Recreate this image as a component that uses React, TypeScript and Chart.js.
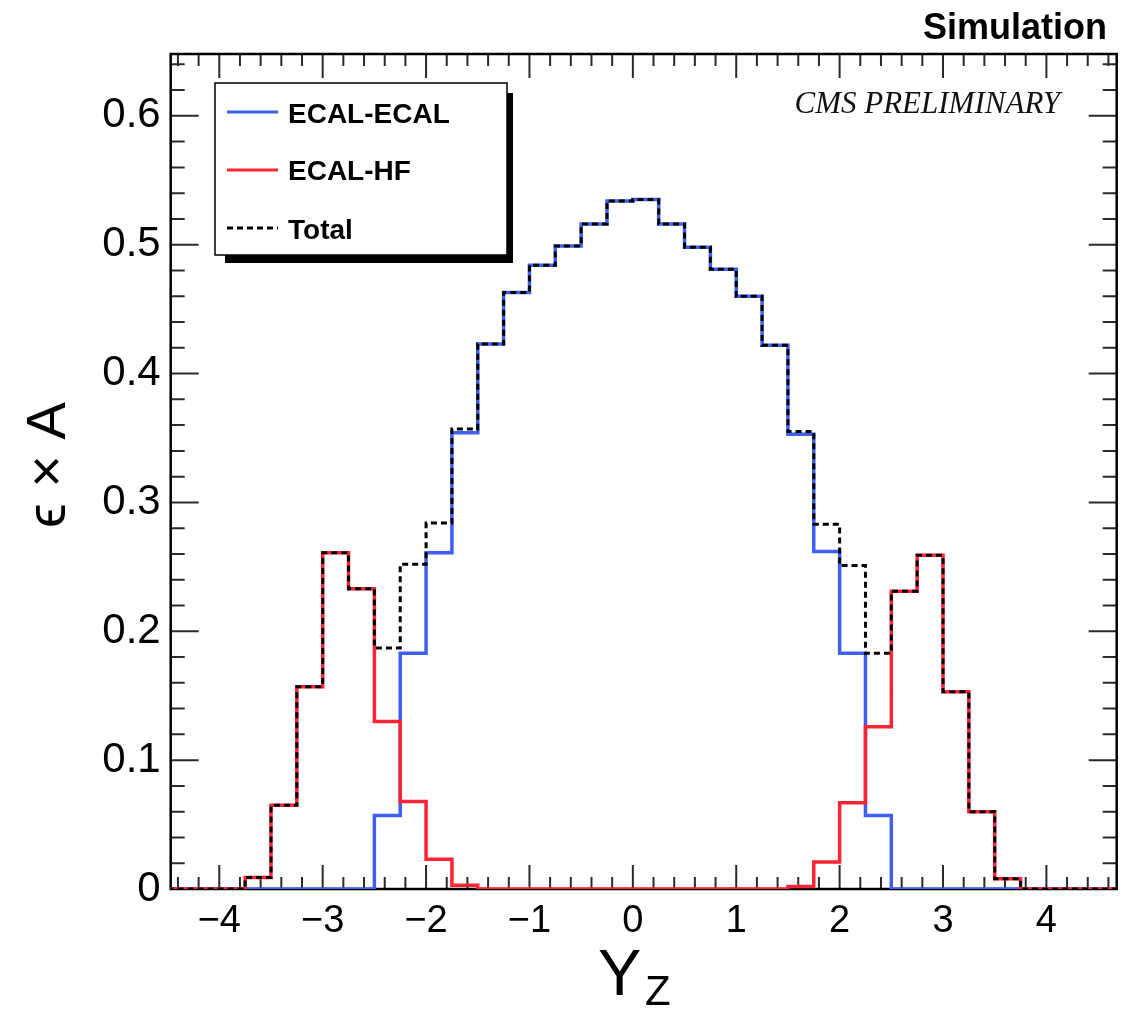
import React, { useEffect, useRef } from "react";
import { Chart, registerables } from "chart.js";

Chart.register(...registerables);

// Bin edges (low edges of 38 bins of width 0.25, plus the final upper edge)
const binEdges = [
  -4.75, -4.5, -4.25, -4.0, -3.75, -3.5, -3.25, -3.0, -2.75, -2.5, -2.25, -2.0, -1.75,
  -1.5, -1.25, -1.0, -0.75, -0.5, -0.25, 0.0, 0.25, 0.5, 0.75, 1.0, 1.25, 1.5, 1.75,
  2.0, 2.25, 2.5, 2.75, 3.0, 3.25, 3.5, 3.75, 4.0, 4.25, 4.5, 4.75,
];

// ECAL-ECAL
const ecalEcal = [
  0, 0, 0, 0, 0, 0, 0, 0, 0, 0.057, 0.183, 0.261, 0.354,
  0.423, 0.463, 0.484, 0.499, 0.516, 0.534, 0.535, 0.516, 0.498, 0.481, 0.46, 0.422, 0.353,
  0.262, 0.183, 0.057, 0, 0, 0, 0, 0, 0, 0, 0, 0,
];

// ECAL-HF
const ecalHf = [
  0, 0, 0, 0, 0.009, 0.065, 0.157, 0.261, 0.233, 0.13, 0.068, 0.023, 0.003,
  0, 0, 0, 0, 0, 0, 0, 0, 0, 0, 0, 0, 0.002,
  0.021, 0.067, 0.126, 0.231, 0.259, 0.153, 0.06, 0.008, 0, 0, 0, 0,
];

// Total
const totalVals = [
  0, 0, 0, 0, 0.009, 0.065, 0.157, 0.261, 0.233, 0.187, 0.252, 0.284, 0.357,
  0.423, 0.463, 0.484, 0.499, 0.516, 0.534, 0.535, 0.516, 0.498, 0.481, 0.46, 0.422, 0.355,
  0.283, 0.251, 0.183, 0.231, 0.259, 0.153, 0.06, 0.008, 0, 0, 0, 0,
];

const xTickValues = [-4, -3, -2, -1, 0, 1, 2, 3, 4];
const xTickLabels = ["\u22124", "\u22123", "\u22122", "\u22121", "0", "1", "2", "3", "4"];
const yTickValues = [0, 0.1, 0.2, 0.3, 0.4, 0.5, 0.6];
const yTickLabels = ["0", "0.1", "0.2", "0.3", "0.4", "0.5", "0.6"];

const seriesLabels = ["ECAL-ECAL", "ECAL-HF", "Total"];
const seriesColors = ["#3f5ff2", "#ff2434", "#000000"];

const SANS = "'Liberation Sans', Arial, Helvetica, sans-serif";
const SERIF = "'Liberation Serif', 'Times New Roman', serif";

const toPoints = (vals: number[]) =>
  binEdges.map((x, i) => ({ x, y: vals[Math.min(i, vals.length - 1)] }));

const framePlugin = {
  id: "rootFrame",
  beforeDatasetsDraw(chart: any) {
    const { ctx, chartArea, scales } = chart;
    const { left, right, top, bottom } = chartArea;
    const xs = scales.x;
    const ys = scales.y;
    ctx.save();
    ctx.strokeStyle = "#2a2a2a";
    ctx.lineWidth = 2;
    for (let k = Math.ceil(xs.min * 5); k <= Math.floor(xs.max * 5); k++) {
      const v = k / 5;
      const len = k % 5 === 0 ? 24 : 12;
      const px = xs.getPixelForValue(v);
      ctx.beginPath();
      ctx.moveTo(px, bottom);
      ctx.lineTo(px, bottom - len);
      ctx.moveTo(px, top);
      ctx.lineTo(px, top + len);
      ctx.stroke();
    }
    for (let k = Math.ceil(ys.min * 50); k <= Math.floor(ys.max * 50); k++) {
      const v = k / 50;
      const len = k % 5 === 0 ? 28 : 14;
      const py = ys.getPixelForValue(v);
      ctx.beginPath();
      ctx.moveTo(left, py);
      ctx.lineTo(left + len, py);
      ctx.moveTo(right, py);
      ctx.lineTo(right - len, py);
      ctx.stroke();
    }
    ctx.strokeStyle = "#000";
    ctx.lineWidth = 2.5;
    ctx.strokeRect(left, top, right - left, bottom - top);
    ctx.restore();
  },
  afterDraw(chart: any) {
    const { ctx } = chart;
    ctx.save();
    // Legend box with shadow
    ctx.fillStyle = "#000";
    ctx.fillRect(225, 93, 288, 170);
    ctx.fillStyle = "#fff";
    ctx.fillRect(215, 83, 292, 172);
    ctx.strokeStyle = "#000";
    ctx.lineWidth = 1.5;
    ctx.strokeRect(215, 83, 292, 172);

    const rows = [112, 170, 228];
    const baselines = [123, 180, 239];
    rows.forEach((ry, i) => {
      ctx.beginPath();
      ctx.strokeStyle = seriesColors[i];
      ctx.lineWidth = 3;
      ctx.setLineDash(i === 2 ? [6, 4] : []);
      ctx.moveTo(227, ry);
      ctx.lineTo(278, ry);
      ctx.stroke();
      ctx.setLineDash([]);
      ctx.fillStyle = "#000";
      ctx.font = `bold 28px ${SANS}`;
      ctx.textAlign = "left";
      ctx.textBaseline = "alphabetic";
      ctx.fillText(seriesLabels[i], 288, baselines[i]);
    });

    // CMS PRELIMINARY
    ctx.font = `italic 31px ${SERIF}`;
    ctx.textAlign = "right";
    ctx.fillStyle = "#111";
    ctx.fillText("CMS PRELIMINARY", 1060, 113);

    // Simulation
    ctx.font = `bold 36px ${SANS}`;
    ctx.fillStyle = "#000";
    ctx.textAlign = "right";
    ctx.fillText("Simulation", 1107, 39);

    // Y title
    ctx.save();
    ctx.translate(65, 465);
    ctx.rotate(-Math.PI / 2);
    ctx.font = `56px ${SANS}`;
    ctx.textAlign = "center";
    ctx.textBaseline = "alphabetic";
    ctx.fillText("\u03F5 \u00D7 A", 0, 0);
    ctx.restore();

    // X title Y_Z
    ctx.textAlign = "left";
    ctx.textBaseline = "alphabetic";
    ctx.font = `65px ${SANS}`;
    ctx.fillText("Y", 598, 995);
    ctx.font = `42px ${SANS}`;
    ctx.fillText("Z", 645, 1005);
    ctx.restore();
  },
};

export default function App() {
  const ref = useRef<HTMLCanvasElement | null>(null);

  useEffect(() => {
    if (!ref.current) return;
    const chart = new Chart(ref.current, {
      type: "line",
      data: {
        datasets: [
          {
            label: seriesLabels[2],
            data: toPoints(totalVals),
            borderColor: seriesColors[2],
            borderWidth: 3,
            borderDash: [6, 4],
            stepped: "before",
            pointRadius: 0,
            fill: false,
            order: 1,
          },
          {
            label: seriesLabels[1],
            data: toPoints(ecalHf),
            borderColor: seriesColors[1],
            borderWidth: 3.5,
            stepped: "before",
            pointRadius: 0,
            fill: false,
            order: 2,
          },
          {
            label: seriesLabels[0],
            data: toPoints(ecalEcal),
            borderColor: seriesColors[0],
            borderWidth: 3.5,
            stepped: "before",
            pointRadius: 0,
            fill: false,
            order: 3,
          },
        ],
      },
      options: {
        animation: false,
        responsive: false,
        maintainAspectRatio: false,
        layout: { padding: { left: 0, top: 54, right: 6.3, bottom: 0 } },
        plugins: {
          legend: { display: false },
          tooltip: { enabled: false },
        },
        scales: {
          x: {
            type: "linear",
            min: -4.47,
            max: 4.68,
            afterBuildTicks: (s: any) => {
              s.ticks = xTickValues.map((v) => ({ value: v }));
            },
            afterFit: (s: any) => {
              s.height = 127;
            },
            grid: { display: false, drawTicks: false },
            border: { display: false },
            ticks: {
              padding: 10,
              color: "#000",
              autoSkip: false,
              maxRotation: 0,
              font: { family: SANS, size: 38 },
              callback: (v: any) => {
                const i = xTickValues.indexOf(Number(v));
                return i >= 0 ? xTickLabels[i] : "";
              },
            },
          },
          y: {
            type: "linear",
            min: 0,
            max: 0.648,
            afterBuildTicks: (s: any) => {
              s.ticks = yTickValues.map((v) => ({ value: v }));
            },
            afterFit: (s: any) => {
              s.width = 170.7;
            },
            grid: { display: false, drawTicks: false },
            border: { display: false },
            ticks: {
              padding: 10,
              color: "#000",
              autoSkip: false,
              font: { family: SANS, size: 42 },
              callback: (v: any) => {
                const i = yTickValues.findIndex((t) => Math.abs(t - Number(v)) < 1e-9);
                return i >= 0 ? yTickLabels[i] : "";
              },
            },
          },
        },
      },
      plugins: [framePlugin],
    } as any);
    return () => chart.destroy();
  }, []);

  return (
    <div style={{ position: "absolute", left: 0, top: 0, width: 1123, height: 1016, background: "#fff" }}>
      <canvas ref={ref} width={1123} height={1016} style={{ display: "block", width: 1123, height: 1016 }} />
    </div>
  );
}
